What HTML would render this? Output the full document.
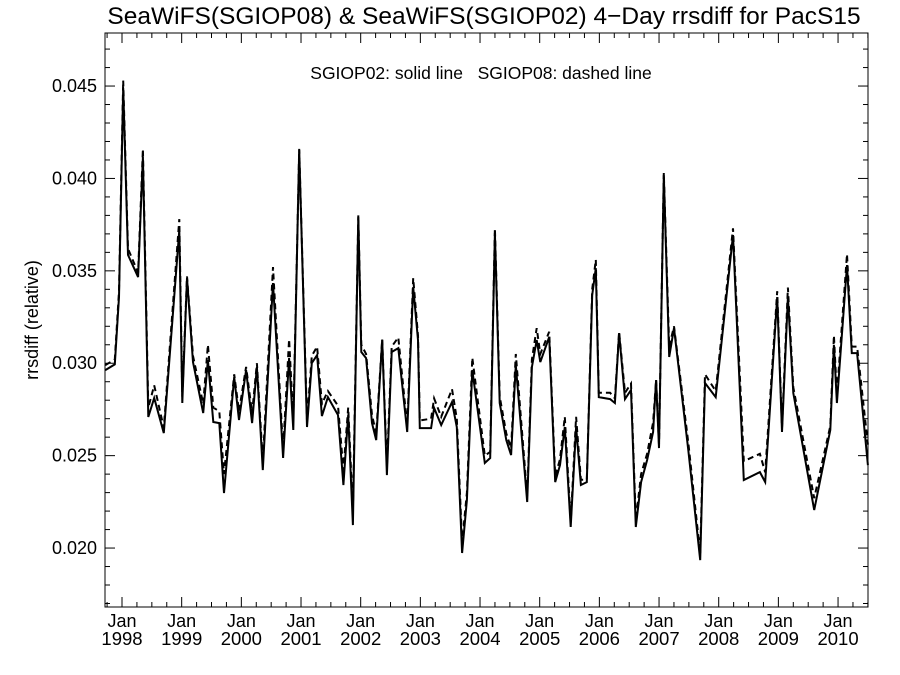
<!DOCTYPE html>
<html><head><meta charset="utf-8"><style>
body{margin:0;background:#fff}
svg{display:block;font-family:"Liberation Sans",sans-serif}
</style></head><body>
<svg id="chart" width="900" height="675" viewBox="0 0 900 675">
<text x="484" y="24" font-size="24.5" text-anchor="middle">SeaWiFS(SGIOP08) &amp; SeaWiFS(SGIOP02) 4−Day rrsdiff for PacS15</text>
<text x="481" y="79" font-size="17.5" text-anchor="middle" style="white-space:pre">SGIOP02: solid line   SGIOP08: dashed line</text>
<text transform="translate(38,320) rotate(-90)" font-size="18" text-anchor="middle">rrsdiff (relative)</text>
<rect x="105" y="33" width="763" height="574" fill="none" stroke="#000" stroke-width="1"/>
<g id="axes"></g>
<g id="series"></g>
</svg>
<script>
const years = [1997.72,1997.88,1997.95,1998.02,1998.10,1998.27,1998.35,1998.44,1998.54,1998.70,1998.96,1999.01,1999.09,1999.19,1999.36,1999.44,1999.53,1999.63,1999.71,1999.88,1999.96,2000.08,2000.18,2000.26,2000.36,2000.53,2000.70,2000.80,2000.87,2000.97,2001.10,2001.18,2001.27,2001.35,2001.45,2001.62,2001.71,2001.79,2001.87,2001.96,2002.01,2002.09,2002.19,2002.26,2002.36,2002.44,2002.52,2002.63,2002.78,2002.88,2002.96,2002.99,2003.18,2003.23,2003.35,2003.53,2003.61,2003.70,2003.78,2003.87,2004.08,2004.17,2004.25,2004.33,2004.44,2004.52,2004.60,2004.79,2004.87,2004.95,2005.01,2005.16,2005.26,2005.34,2005.42,2005.52,2005.61,2005.69,2005.79,2005.88,2005.94,2005.99,2006.18,2006.26,2006.33,2006.43,2006.53,2006.61,2006.70,2006.80,2006.90,2006.95,2007.00,2007.08,2007.17,2007.25,2007.49,2007.69,2007.77,2007.95,2008.24,2008.42,2008.69,2008.78,2008.98,2009.06,2009.16,2009.25,2009.60,2009.87,2009.93,2009.98,2010.15,2010.23,2010.32,2010.50];
const sgiop02 = [0.02963,0.02994,0.03358,0.04489,0.03586,0.03466,0.04116,0.02709,0.02812,0.02622,0.03721,0.02785,0.03461,0.03006,0.02731,0.03017,0.02682,0.02676,0.02298,0.02925,0.02693,0.02963,0.02676,0.02979,0.02422,0.03434,0.02487,0.03028,0.02639,0.04154,0.02655,0.03001,0.03044,0.02714,0.02817,0.02720,0.02341,0.02720,0.02124,0.03791,0.03061,0.03028,0.02676,0.02584,0.03126,0.02395,0.03061,0.03082,0.02628,0.03412,0.03126,0.02649,0.02649,0.02758,0.02666,0.02790,0.02655,0.01973,0.02260,0.02963,0.02460,0.02487,0.03705,0.02785,0.02584,0.02503,0.02990,0.02249,0.02979,0.03126,0.03006,0.03142,0.02357,0.02449,0.02655,0.02114,0.02655,0.02341,0.02357,0.03369,0.03515,0.02817,0.02806,0.02785,0.03163,0.02806,0.02855,0.02114,0.02357,0.02476,0.02628,0.02909,0.02541,0.04018,0.03034,0.03190,0.02530,0.01935,0.02893,0.02817,0.03694,0.02368,0.02411,0.02357,0.03358,0.02628,0.03358,0.02839,0.02206,0.02639,0.03099,0.02785,0.03531,0.03055,0.03055,0.02449];
const sgiop08 = [0.02990,0.03020,0.03390,0.04530,0.03620,0.03490,0.04160,0.02760,0.02880,0.02650,0.03780,0.02820,0.03470,0.03040,0.02780,0.03100,0.02760,0.02740,0.02400,0.02940,0.02740,0.02980,0.02730,0.03000,0.02470,0.03520,0.02530,0.03130,0.02690,0.04160,0.02690,0.03040,0.03090,0.02780,0.02850,0.02770,0.02420,0.02760,0.02200,0.03800,0.03100,0.03050,0.02720,0.02620,0.03130,0.02440,0.03090,0.03140,0.02660,0.03460,0.03150,0.02690,0.02700,0.02810,0.02710,0.02860,0.02700,0.02030,0.02300,0.03030,0.02500,0.02520,0.03730,0.02820,0.02620,0.02540,0.03050,0.02280,0.03020,0.03190,0.03050,0.03170,0.02390,0.02480,0.02710,0.02140,0.02710,0.02370,0.02370,0.03400,0.03560,0.02840,0.02840,0.02810,0.03170,0.02840,0.02890,0.02150,0.02400,0.02510,0.02680,0.02910,0.02560,0.04030,0.03090,0.03200,0.02570,0.01970,0.02940,0.02850,0.03730,0.02470,0.02510,0.02410,0.03390,0.02650,0.03410,0.02870,0.02270,0.02660,0.03150,0.02830,0.03590,0.03090,0.03090,0.02560];
const yTickLabels = ["0.020","0.025","0.030","0.035","0.040","0.045"];
const xTickYears = [1998,1999,2000,2001,2002,2003,2004,2005,2006,2007,2008,2009,2010];

const L=105,R=868,T=33,B=607;
const X0=1997.715,X1=2010.502,Y0=0.01681,Y1=0.04787;
function sx(v){return L+(v-X0)/(X1-X0)*(R-L);}
function sy(v){return B-(v-Y0)/(Y1-Y0)*(B-T);}
const NS="http://www.w3.org/2000/svg";
const axes=document.getElementById('axes'), series=document.getElementById('series');
function line(parent,x1,y1,x2,y2,name){
  const l=document.createElementNS(NS,'line');
  l.setAttribute('x1',x1);l.setAttribute('y1',y1);l.setAttribute('x2',x2);l.setAttribute('y2',y2);
  l.setAttribute('stroke','#000');l.setAttribute('stroke-width','1');
  
  
  parent.appendChild(l);
}
function text(parent,x,y,s,anchor,size,name){
  const t=document.createElementNS(NS,'text');
  t.setAttribute('x',x);t.setAttribute('y',y);t.setAttribute('text-anchor',anchor);t.setAttribute('font-size',size);
  t.textContent=s;
  
  
  parent.appendChild(t);
}
for(let k=17;k<=47;k++){
  const v=k/1000, y=sy(v), major=(k%5===0), len=major?10:5;
  line(axes,L,y,L+len,y,'y-tick');
  line(axes,R,y,R-len,y,'y-tick-right');
}
yTickLabels.forEach(s=>{ text(axes,97,sy(parseFloat(s))+6,s,'end',18,'y-tick-label'); });
for(let yr=1997;yr<=2011;yr++){
  for(let q=0;q<4;q++){
    const v=yr+q/4; if(v<X0||v>X1) continue;
    const x=sx(v), len=q===0?10:5;
    line(axes,x,B,x,B-len,'x-tick');
    line(axes,x,T,x,T+len,'x-tick-top');
  }
}
xTickYears.forEach(yr=>{
  const x=sx(yr);
  text(axes,x,627,'Jan','middle',18,'x-tick-month');
  text(axes,x,645,String(yr),'middle',18.5,'x-tick-year');
});
function path(vals,dash,name){
  const p=document.createElementNS(NS,'path');
  p.setAttribute('d',vals.map((v,i)=>(i?'L':'M')+sx(years[i]).toFixed(1)+','+sy(v).toFixed(1)).join(''));
  p.setAttribute('fill','none');p.setAttribute('stroke','#000');p.setAttribute('stroke-width','2');
  if(dash)p.setAttribute('stroke-dasharray',dash);
  
  
  series.appendChild(p);
}
path(sgiop08,'6,4','sgiop08-dashed-line');
path(sgiop02,null,'sgiop02-solid-line');
</script>
</body></html>
